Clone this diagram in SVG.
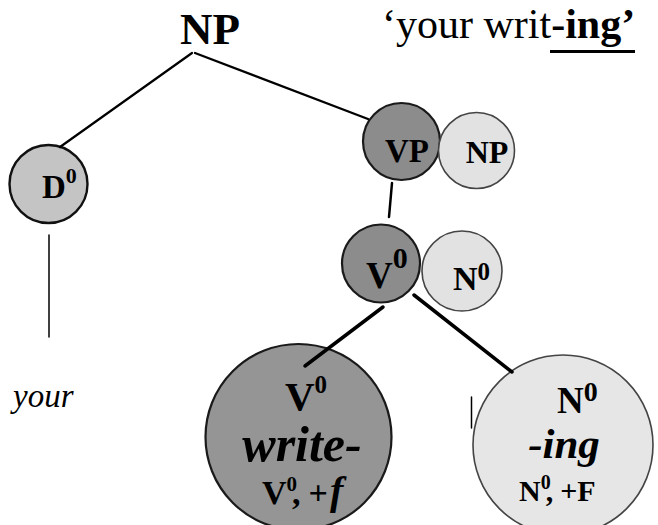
<svg xmlns="http://www.w3.org/2000/svg" width="658" height="525" viewBox="0 0 658 525">
<style>
text{font-family:"Liberation Serif","Times New Roman",serif;fill:#000;}
.b{font-weight:bold;}
.bi{font-weight:bold;font-style:italic;}
.dark{fill:#8c8c8c;stroke:#1a1a1a;stroke-width:2.2;}
.light{fill:#e2e2e2;stroke:#444;stroke-width:1.6;}
.mid{fill:#c4c4c4;stroke:#111;stroke-width:2.4;}
.ln{stroke:#000;fill:none;stroke-linecap:round;}
</style>
<rect width="658" height="525" fill="#fff"/>
<g id="title">
<text class="b" x="210" y="44" font-size="45" text-anchor="middle">NP</text>
</g>
<g id="gloss">
<text x="382" y="38" font-size="42">‘your writ<tspan class="b">-ing’</tspan></text>
<line x1="550" y1="51.5" x2="635" y2="51.5" stroke="#000" stroke-width="3"/>
</g>
<g id="node-D0">
<circle class="mid" cx="48.5" cy="184" r="39"/>
<text class="b" x="42" y="198" font-size="33">D<tspan dy="-15" font-size="22">0</tspan></text>
</g>
<g id="node-your">
<text x="13" y="407" font-size="33" font-style="italic">your</text>
</g>
<g id="node-VP">
<circle class="dark" cx="401.5" cy="141.5" r="38.5"/>
<text class="b" x="407" y="162" font-size="33" text-anchor="middle">VP</text>
</g>
<g id="node-NP2">
<circle class="light" cx="476.5" cy="150.5" r="38"/>
<text class="b" x="487" y="163" font-size="32" text-anchor="middle">NP</text>
</g>
<g id="node-V0">
<circle class="dark" cx="381" cy="263.5" r="39"/>
<text class="b" x="366" y="288" font-size="37">V<tspan dy="-20" font-size="30">0</tspan></text>
</g>
<g id="node-N0">
<circle class="light" cx="462" cy="271" r="40"/>
<text class="b" x="453" y="290" font-size="34">N<tspan dy="-10" font-size="25">0</tspan></text>
</g>
<g id="node-V0-write">
<circle class="dark" cx="298.5" cy="437" r="93" style="fill:#959595"/>
<text class="b" x="285" y="410" font-size="41">V<tspan dy="-17" font-size="25">0</tspan></text>
<text class="bi" x="302" y="461" font-size="50" text-anchor="middle">write-</text>
<text class="b" x="262" y="504" font-size="34">V<tspan dy="-13" font-size="21">0</tspan><tspan dx="-5" dy="13">,</tspan><tspan dx="8">+</tspan><tspan dx="2" font-style="italic" font-size="40">f</tspan></text>
</g>
<g id="node-N0-ing">
<circle class="light" cx="563" cy="445" r="90" style="fill:#e6e6e6"/>
<text class="b" x="557" y="413" font-size="37">N<tspan dy="-12" font-size="28">0</tspan></text>
<text class="bi" x="564" y="458" font-size="43" text-anchor="middle">-ing</text>
<text class="b" x="519" y="501" font-size="30">N<tspan dy="-12" font-size="20">0</tspan><tspan dx="-5" dy="12">,</tspan><tspan dx="7">+F</tspan></text>
</g>
<g id="connectors">
<line class="ln" x1="192" y1="53" x2="60" y2="147" stroke-width="2.2"/>
<line class="ln" x1="195" y1="53" x2="368" y2="119" stroke-width="2.2"/>
<line class="ln" x1="49" y1="235" x2="49" y2="337" stroke-width="1.5"/>
<line class="ln" x1="392" y1="183" x2="389" y2="217" stroke-width="2.5"/>
<line class="ln" x1="383" y1="307" x2="305" y2="366" stroke-width="3.5"/>
<line class="ln" x1="414" y1="295" x2="512" y2="372" stroke-width="3.5"/>
<line class="ln" x1="471.5" y1="397" x2="471.5" y2="428" stroke-width="1.5"/>
</g>
</svg>
